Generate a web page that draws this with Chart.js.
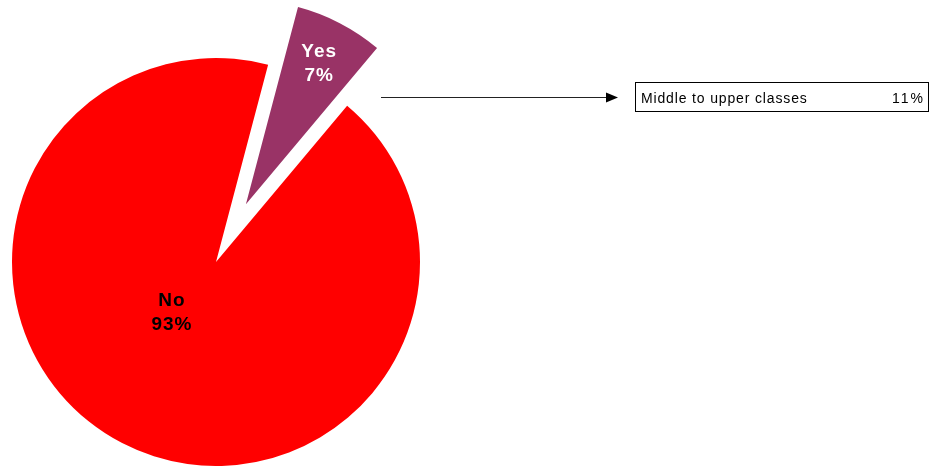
<!DOCTYPE html>
<html>
<head>
<meta charset="utf-8">
<script src="https://cdn.jsdelivr.net/npm/chart.js@4.4.1/dist/chart.umd.min.js"></script>
<style>
  html, body { margin: 0; padding: 0; background: #ffffff; overflow: hidden; }
  canvas { display: block; }
</style>
</head>
<body>
<canvas id="c" width="929" height="466"></canvas>
<script>
// Pie data
const categories = ['No', 'Yes'];
const shares = [93, 7];
const sliceColors = ['#FF0000', '#993366'];
const labelColors = ['#000000', '#FFFFFF'];

// Breakdown of the "Yes" slice shown in the side box
const breakdownLabels = ['Middle to upper classes'];
const breakdownValues = [11];

// Drawing settings per slice
const explodePx = [0, 65];        // how far a slice is pulled out of the pie
const labelRadius = [0.33, 0.775]; // label distance as a fraction of the radius
const labelTurnDeg = [14, 0];      // label angle relative to the slice middle

const FONT = '"Liberation Sans", Arial, Helvetica, sans-serif';

// Draws each arc moved outward along its middle angle, then its label
const explodedSlices = {
  id: 'explodedSlices',
  beforeDatasetDraw(chart, args) {
    const ctx = chart.ctx;
    const arcs = args.meta.data;
    arcs.forEach((arc, i) => {
      const mid = (arc.startAngle + arc.endAngle) / 2;
      const d = explodePx[i] || 0;
      ctx.save();
      ctx.translate(Math.cos(mid) * d, Math.sin(mid) * d);
      arc.draw(ctx, chart.chartArea);
      ctx.restore();
    });
    arcs.forEach((arc, i) => {
      const mid = (arc.startAngle + arc.endAngle) / 2;
      const d = explodePx[i] || 0;
      const cx = arc.x + Math.cos(mid) * d;
      const cy = arc.y + Math.sin(mid) * d;
      const a = mid + labelTurnDeg[i] * Math.PI / 180;
      const r = arc.outerRadius * labelRadius[i];
      const lx = cx + Math.cos(a) * r;
      const ly = cy + Math.sin(a) * r;
      ctx.save();
      ctx.fillStyle = labelColors[i];
      ctx.font = 'bold 19px ' + FONT;
      ctx.textAlign = 'center';
      ctx.textBaseline = 'middle';
      ctx.letterSpacing = '1px';
      ctx.fillText(categories[i], lx + 0.5, ly - 12);
      ctx.fillText(shares[i] + '%', lx + 0.5, ly + 12);
      ctx.restore();
    });
    return false;
  }
};

// Arrow from the pulled-out slice to the breakdown box
const breakdownBox = {
  id: 'breakdownBox',
  afterDraw(chart) {
    const ctx = chart.ctx;
    ctx.save();
    // arrow shaft
    ctx.strokeStyle = '#222222';
    ctx.lineWidth = 1;
    ctx.beginPath();
    ctx.moveTo(381, 97.5);
    ctx.lineTo(608, 97.5);
    ctx.stroke();
    // arrow head
    ctx.fillStyle = '#000000';
    ctx.beginPath();
    ctx.moveTo(618, 97.5);
    ctx.lineTo(606, 92.5);
    ctx.lineTo(606, 102.5);
    ctx.closePath();
    ctx.fill();
    // box
    const rowH = 29;
    breakdownLabels.forEach((lab, i) => {
      const top = 82.5 + i * rowH;
      ctx.strokeStyle = '#000000';
      ctx.lineWidth = 1;
      ctx.strokeRect(635.5, top, 293, rowH);
      ctx.fillStyle = '#000000';
      ctx.font = '14px ' + FONT;
      ctx.textBaseline = 'alphabetic';
      ctx.letterSpacing = '0.85px';
      ctx.textAlign = 'left';
      ctx.fillText(lab, 641, top + 20.5);
      ctx.textAlign = 'right';
      ctx.letterSpacing = '2px';
      ctx.fillText(breakdownValues[i] + '%', 925, top + 20.5);
    });
    ctx.restore();
  }
};

new Chart(document.getElementById('c'), {
  type: 'pie',
  data: {
    labels: categories,
    datasets: [{
      data: shares,
      backgroundColor: sliceColors,
      borderWidth: 0
    }]
  },
  options: {
    responsive: false,
    animation: false,
    rotation: 40,
    layout: { padding: { left: 12, right: 509, top: 58, bottom: 0 } },
    plugins: {
      legend: { display: false },
      tooltip: { enabled: false }
    }
  },
  plugins: [explodedSlices, breakdownBox]
});
</script>
</body>
</html>
